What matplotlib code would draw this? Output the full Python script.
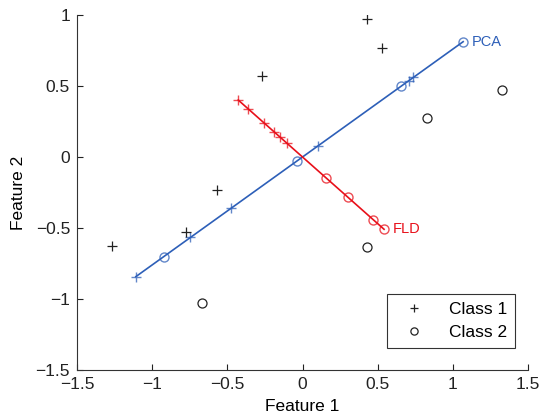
import numpy as np
import matplotlib
matplotlib.use('agg')
import matplotlib.pyplot as plt

plt.rcParams['font.family'] = ['Liberation Sans', 'DejaVu Sans']

# feature values (data are centred)
c1_x = [-1.27, -0.775, -0.571, -0.269, 0.427, 0.529]
c1_y = [-0.63, -0.528, -0.23, 0.57, 0.969, 0.770]
c2_x = [-0.671, 0.427, 0.826, 1.327]
c2_y = [-1.031, -0.632, 0.272, 0.472]

# projection directions
pca_dir = [0.796, 0.605]
fld_dir = [0.729, -0.684]

xticks = [-1.5, -1, -0.5, 0, 0.5, 1, 1.5]
yticks = [-1.5, -1, -0.5, 0, 0.5, 1]

X1 = np.column_stack([c1_x, c1_y])
X2 = np.column_stack([c2_x, c2_y])


def proj(P, u):
    t = P @ u
    return np.outer(t, u), t


blue = '#2d5fb8'
red = '#e8101a'

fig = plt.figure(figsize=[5.43, 4.16], dpi=100)
ax = fig.add_axes([0.1418, 0.1106, 0.8306, 0.8533])

for d, col, lab in [(pca_dir, blue, 'PCA'), (fld_dir, red, 'FLD')]:
    u = np.array(d) / np.linalg.norm(d)
    p1, t1 = proj(X1, u)
    p2, t2 = proj(X2, u)
    tall = np.concatenate([t1, t2])
    ends = np.outer([tall.min(), tall.max()], u)
    ax.plot(ends[:, 0], ends[:, 1], '-', color=col, linewidth=1.2)
    ax.plot(p1[:, 0], p1[:, 1], '+', color=col, ms=7, mew=1.0, alpha=0.75)
    ax.plot(p2[:, 0], p2[:, 1], 'o', color=col, ms=6.5, mew=1.0, mfc='none', alpha=0.75)
    k = np.argmax(tall)
    pe = np.vstack([p1, p2])[k]
    ax.annotate(lab, xy=(pe[0], pe[1]), xytext=(6, 0), textcoords='offset points',
                color=col, fontsize=10.5, va='center', ha='left')

ax.plot(c1_x, c1_y, '+', color='#222222', ms=7, mew=0.9, label='Class 1')
ax.plot(c2_x, c2_y, 'o', color='#222222', ms=6.5, mew=0.9, mfc='none', label='Class 2')

ax.set_xlim(-1.5, 1.5)
ax.set_ylim(-1.5, 1)
ax.set_xticks(xticks)
ax.set_yticks(yticks)
ax.set_xticklabels([('%g' % v).replace('-', '\u2212') for v in xticks])
ax.set_yticklabels([('%g' % v).replace('-', '\u2212') for v in yticks])
ax.spines['top'].set_visible(False)
ax.spines['right'].set_visible(False)
for s in ['left', 'bottom']:
    ax.spines[s].set_color('#333333')
    ax.spines[s].set_linewidth(0.8)
ax.tick_params(direction='in', length=4, labelsize=12.5, colors='#222222', pad=5)
ax.set_xlabel('Feature 1', fontsize=12.5, labelpad=5)
ax.set_ylabel('Feature 2', fontsize=12.5, labelpad=7)

leg = ax.legend(loc='lower right', bbox_to_anchor=(0.971, 0.062), fontsize=12.5,
                frameon=True, fancybox=False, edgecolor='black', handlelength=2.2,
                borderpad=0.45, labelspacing=0.45, handletextpad=0.9, borderaxespad=0,
                markerscale=0.8)
leg.get_frame().set_linewidth(0.8)

plt.savefig('out.png', dpi=100)
